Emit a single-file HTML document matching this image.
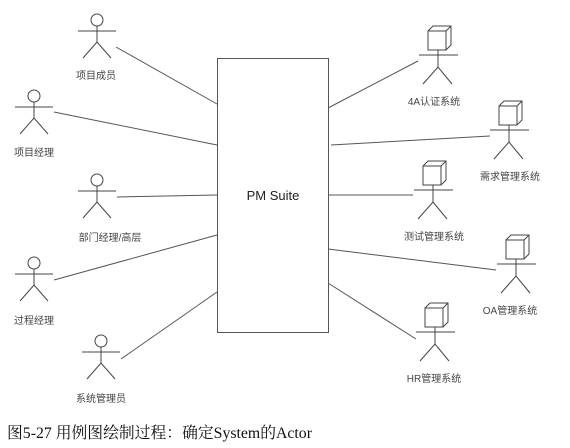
<!DOCTYPE html>
<html><head><meta charset="utf-8"><style>
body{margin:0;background:#fff;width:570px;height:448px;overflow:hidden}
svg{display:block}
.l{font-family:"Liberation Sans","Noto Sans CJK SC",sans-serif;font-size:10px;fill:#444;text-anchor:middle}
</style></head><body>
<svg width="570" height="448" viewBox="0 0 570 448">
<defs>
<g id="h" stroke="#444" stroke-width="1" fill="#fff">
<circle cx="0" cy="-11" r="6"/>
<line x1="-19" y1="0" x2="19" y2="0"/>
<line x1="0" y1="-5" x2="0" y2="11"/>
<polyline points="-14,27 0,11 14,27" fill="none"/>
</g>
<g id="s" stroke="#444" stroke-width="1" fill="#fff">
<polygon points="-10,-24 -5,-29 13,-29 13,-10 8,-5 -10,-5"/>
<rect x="-10" y="-24" width="18" height="19"/>
<line x1="8" y1="-24" x2="13" y2="-29"/>
<line x1="-19" y1="0" x2="20" y2="0"/>
<line x1="0" y1="-5" x2="0" y2="12"/>
<polyline points="-15,29 0,12 14,29" fill="none"/>
</g>
</defs>
<g stroke="#555" stroke-width="1" fill="none">
<rect x="217.5" y="58.5" width="111" height="274"/>
<line x1="116" y1="47" x2="217" y2="104"/>
<line x1="54" y1="112" x2="217" y2="145"/>
<line x1="117" y1="197" x2="217" y2="195"/>
<line x1="54" y1="280" x2="217" y2="235"/>
<line x1="121" y1="359" x2="217" y2="292"/>
<line x1="328" y1="108" x2="418" y2="61"/>
<line x1="331" y1="145" x2="490" y2="136"/>
<line x1="328" y1="195" x2="413" y2="195"/>
<line x1="328" y1="249" x2="496" y2="270"/>
<line x1="328" y1="283" x2="416" y2="339"/>
</g>
<text x="273" y="200" font-family="Liberation Sans,sans-serif" font-size="13" text-anchor="middle" fill="#222">PM Suite</text>
<use href="#h" x="97" y="31"/>
<use href="#h" x="34" y="107"/>
<use href="#h" x="97" y="191"/>
<use href="#h" x="34" y="274"/>
<use href="#h" x="101" y="352"/>
<use href="#s" x="438" y="55"/>
<use href="#s" x="509" y="130"/>
<use href="#s" x="433" y="190"/>
<use href="#s" x="516" y="264"/>
<use href="#s" x="435" y="332"/>
<text class="l" x="96" y="79">项目成员</text>
<text class="l" x="34" y="156">项目经理</text>
<text class="l" x="110" y="241">部门经理/高层</text>
<text class="l" x="34" y="324">过程经理</text>
<text class="l" x="101" y="402">系统管理员</text>
<text class="l" x="434" y="105">4A认证系统</text>
<text class="l" x="510" y="180">需求管理系统</text>
<text class="l" x="434" y="240">测试管理系统</text>
<text class="l" x="510" y="314">OA管理系统</text>
<text class="l" x="434" y="382">HR管理系统</text>
<text x="7" y="438" font-family="Liberation Serif,Noto Serif CJK SC,serif" font-size="15.8" fill="#111">图5-27 用例图绘制过程：确定System的Actor</text>
</svg>
</body></html>
